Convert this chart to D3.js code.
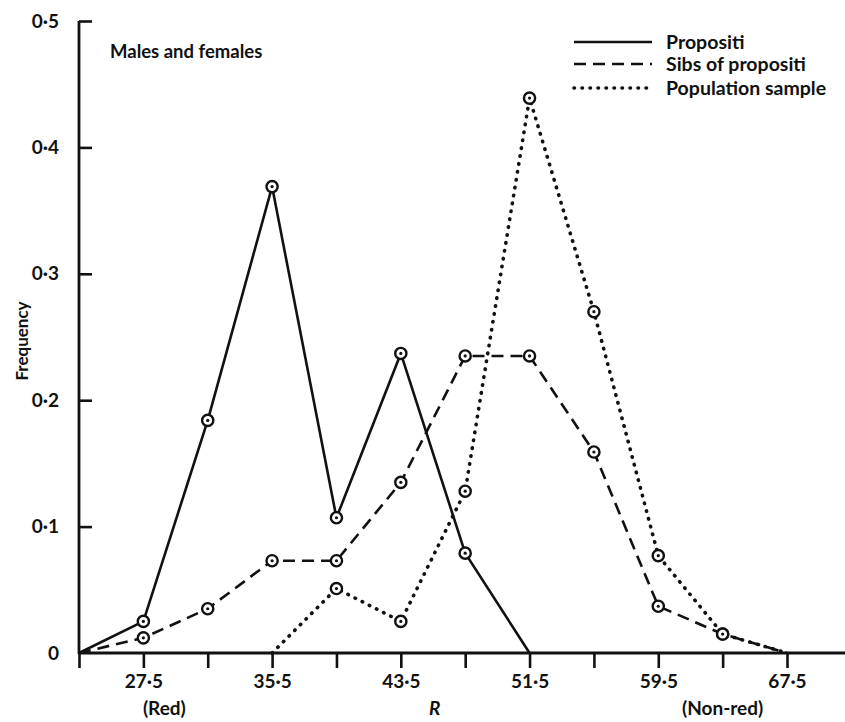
<!DOCTYPE html>
<html>
<head>
<meta charset="utf-8">
<script src="https://cdn.jsdelivr.net/npm/d3@7"></script>
<style>
  html, body { margin: 0; padding: 0; background: #fff; }
  svg { display: block; }
  text { font-family: "Lato", "DejaVu Sans", sans-serif; font-weight: 700; fill: #111; }
</style>
</head>
<body>
<svg id="chart" width="845" height="722"></svg>
<script>
// ---- data ----
const rValues = [23.5, 27.5, 31.5, 35.5, 39.5, 43.5, 47.5, 51.5, 55.5, 59.5, 63.5, 67.5];
const propositi = [0, 0.025, 0.184, 0.369, 0.107, 0.237, 0.079, 0, null, null, null, null];
const sibs = [0, 0.012, 0.035, 0.073, 0.073, 0.135, 0.235, 0.235, 0.159, 0.037, 0.015, 0];
const population = [null, null, null, 0, 0.051, 0.025, 0.128, 0.439, 0.270, 0.077, 0.015, 0];
const xTickValues = [23.5, 27.5, 31.5, 35.5, 39.5, 43.5, 47.5, 51.5, 55.5, 59.5, 63.5, 67.5];
const xTickLabels = ["", "27·5", "", "35·5", "", "43·5", "", "51·5", "", "59·5", "", "67·5"];
const yTickValues = [0, 0.1, 0.2, 0.3, 0.4, 0.5];
const yTickLabels = ["0", "0·1", "0·2", "0·3", "0·4", "0·5"];
const seriesNames = ["Propositi", "Sibs of propositi", "Population sample"];

const svg = d3.select("#chart");
const x = d3.scaleLinear().domain([23.5, 67.5]).range([79, 787]);
const y = d3.scaleLinear().domain([0, 0.5]).range([653, 21]);

const styles = [
  { dash: null, width: 2.6, cap: "butt" },
  { dash: "12,7", width: 2.6, cap: "butt" },
  { dash: "0.5,7.5", width: 3.6, cap: "round" }
];
const allSeries = [propositi, sibs, population];

// ---- axes ----
svg.append("line").attr("x1", x(23.5)).attr("x2", 845).attr("y1", y(0)).attr("y2", y(0))
  .attr("stroke", "#111").attr("stroke-width", 2.8);
svg.append("line").attr("x1", x(23.5)).attr("x2", x(23.5)).attr("y1", y(0.5)).attr("y2", y(0) + 1)
  .attr("stroke", "#111").attr("stroke-width", 2.8);

const xAxis = d3.axisBottom(x).tickValues(xTickValues).tickSize(15).tickPadding(7)
  .tickFormat((d, i) => xTickLabels[i]);
const gx = svg.append("g").attr("transform", `translate(0,${y(0)})`).call(xAxis);
gx.select(".domain").remove();
gx.selectAll(".tick line").attr("stroke", "#111").attr("stroke-width", 2.6);
gx.selectAll(".tick text").attr("font-size", 19).attr("fill", "#111");

const yAxis = d3.axisRight(y).tickValues(yTickValues).tickSize(13)
  .tickFormat(() => "");
const gy = svg.append("g").attr("transform", `translate(${x(23.5)},0)`).call(yAxis);
gy.select(".domain").remove();
gy.selectAll(".tick line").attr("stroke", "#111").attr("stroke-width", 2.6)
  .attr("x2", (d) => d === 0 ? 0 : 13);
svg.append("g").selectAll("text").data(yTickValues).join("text")
  .attr("x", 59).attr("y", (d) => y(d)).attr("dy", "0.35em").attr("text-anchor", "end")
  .attr("font-size", 19).text((d, i) => yTickLabels[i]);

// axis titles
svg.append("text").attr("transform", `translate(22,${341}) rotate(-90)`)
  .attr("text-anchor", "middle").attr("dy", "0.35em").attr("font-size", 17).text("Frequency");
svg.append("text").attr("x", x(43.5) + 34).attr("y", 708).attr("dy", "0.35em")
  .attr("text-anchor", "middle").attr("font-size", 19).attr("font-style", "italic").text("R");
svg.append("text").attr("x", x(27.5) + 21).attr("y", 708).attr("dy", "0.35em")
  .attr("text-anchor", "middle").attr("font-size", 19).text("(Red)");
svg.append("text").attr("x", x(63.5)).attr("y", 708).attr("dy", "0.35em")
  .attr("text-anchor", "middle").attr("font-size", 19).text("(Non-red)");

svg.append("text").attr("x", 110).attr("y", 52).attr("dy", "0.35em")
  .attr("font-size", 18.5).text("Males and females");

// ---- lines ----
const line = d3.line()
  .defined((d) => d.v !== null)
  .x((d) => x(d.r)).y((d) => y(d.v));

allSeries.forEach((vals, k) => {
  const pts = rValues.map((r, i) => ({ r, v: vals[i] }));
  svg.append("path").datum(pts).attr("d", line)
    .attr("fill", "none").attr("stroke", "#111")
    .attr("stroke-width", styles[k].width)
    .attr("stroke-dasharray", styles[k].dash)
    .attr("stroke-linecap", styles[k].cap)
    .attr("stroke-linejoin", "round");
});

// ---- markers ----
allSeries.forEach((vals) => {
  const pts = rValues.map((r, i) => ({ r, v: vals[i] })).filter((d) => d.v !== null && d.v > 0);
  const g = svg.append("g");
  g.selectAll("circle.o").data(pts).join("circle").attr("class", "o")
    .attr("cx", (d) => x(d.r)).attr("cy", (d) => y(d.v)).attr("r", 5.6)
    .attr("fill", "#fff").attr("stroke", "#111").attr("stroke-width", 2.4);
  g.selectAll("circle.c").data(pts).join("circle").attr("class", "c")
    .attr("cx", (d) => x(d.r)).attr("cy", (d) => y(d.v)).attr("r", 1.6)
    .attr("fill", "#111");
});

// ---- legend ----
const legendY = [42, 64, 88];
const lg = svg.append("g");
seriesNames.forEach((name, k) => {
  lg.append("line").attr("x1", 574).attr("x2", 652).attr("y1", legendY[k]).attr("y2", legendY[k])
    .attr("stroke", "#111").attr("stroke-width", styles[k].width)
    .attr("stroke-dasharray", styles[k].dash).attr("stroke-linecap", styles[k].cap);
  lg.append("text").attr("x", 666).attr("y", legendY[k]).attr("dy", "0.35em")
    .attr("font-size", 19.5).text(name);
});
</script>
</body>
</html>
